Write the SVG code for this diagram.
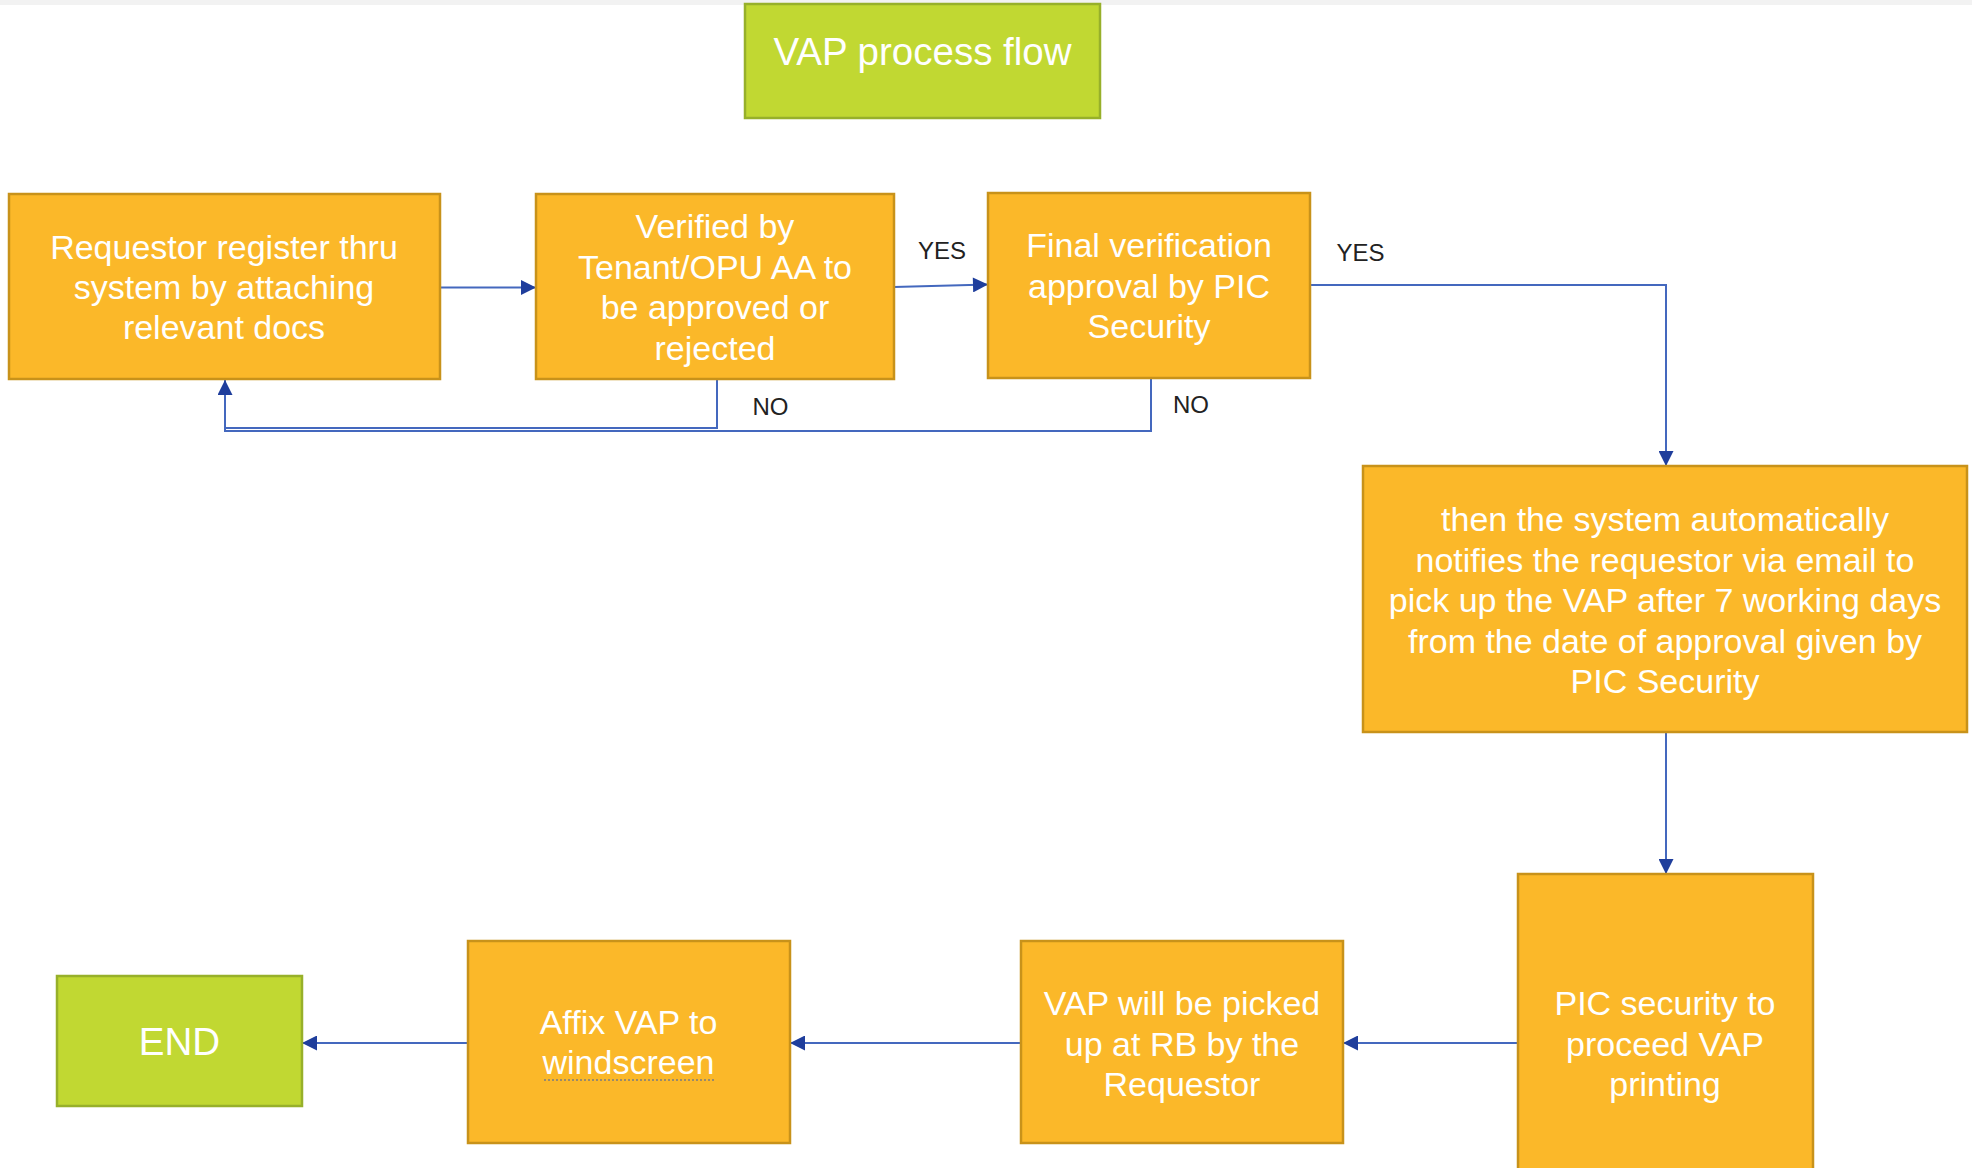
<svg xmlns="http://www.w3.org/2000/svg" width="1972" height="1168" viewBox="0 0 1972 1168">
  <style>
    .step { fill: #FBB829; stroke: #C8921A; stroke-width: 2.5; }
    .term { fill: #C1D832; stroke: #97B02A; stroke-width: 2.5; }
    .txt { font-family: "Liberation Sans", Arial, sans-serif; font-size: 34px; fill: #FFFFFF; text-anchor: middle; }
    .big { font-size: 38.5px; }
    .lbl { font-family: "Liberation Sans", Arial, sans-serif; font-size: 24px; fill: #222222; text-anchor: middle; }
    .link { fill: none; stroke: #4468BE; stroke-width: 2; }
  </style>
  <defs>
    <marker id="arrow" viewBox="0 0 16 16" refX="16" refY="8" markerWidth="16" markerHeight="15" markerUnits="userSpaceOnUse" orient="auto">
      <path d="M0,0 L16,8 L0,16 z" fill="#1F3E9C"/>
    </marker>
  </defs>

  <rect x="0" y="0" width="1972" height="1168" fill="#FFFFFF"/>
  <rect x="0" y="0" width="1972" height="5" fill="#F2F2F2"/>

  <!-- title -->
  <g id="title">
    <rect class="term" x="745" y="4" width="355" height="114"/>
    <text class="txt big" x="922.5" y="65">VAP process flow</text>
  </g>

  <!-- connectors -->
  <g id="connectors">
    <path class="link" d="M440 287.5 H536" marker-end="url(#arrow)"/>
    <path class="link" d="M894 287 L988 284.5" marker-end="url(#arrow)"/>
    <path class="link" d="M1310 285 H1666 V466" marker-end="url(#arrow)"/>
    <path class="link" d="M717 379 V428 H225"/>
    <path class="link" d="M1151 378 V431 H225 V380" marker-end="url(#arrow)"/>
    <path class="link" d="M1666 732 V874" marker-end="url(#arrow)"/>
    <path class="link" d="M1518 1043 H1343" marker-end="url(#arrow)"/>
    <path class="link" d="M1021 1043 H790" marker-end="url(#arrow)"/>
    <path class="link" d="M468 1043 H302" marker-end="url(#arrow)"/>
    <text class="lbl" x="942" y="259">YES</text>
    <text class="lbl" x="1360.5" y="261">YES</text>
    <text class="lbl" x="770.5" y="415">NO</text>
    <text class="lbl" x="1191" y="413">NO</text>
  </g>

  <g id="register">
    <rect class="step" x="9" y="194" width="431" height="185"/>
    <text class="txt" x="224" y="259">Requestor register thru</text>
    <text class="txt" x="224" y="299">system by attaching</text>
    <text class="txt" x="224" y="339">relevant docs</text>
  </g>

  <g id="verify">
    <rect class="step" x="536" y="194" width="358" height="185"/>
    <text class="txt" x="715" y="238">Verified by</text>
    <text class="txt" x="715" y="278.5">Tenant/OPU AA to</text>
    <text class="txt" x="715" y="319">be approved or</text>
    <text class="txt" x="715" y="359.5">rejected</text>
  </g>

  <g id="final">
    <rect class="step" x="988" y="193" width="322" height="185"/>
    <text class="txt" x="1149" y="257">Final verification</text>
    <text class="txt" x="1149" y="297.5">approval by PIC</text>
    <text class="txt" x="1149" y="338">Security</text>
  </g>

  <g id="notify">
    <rect class="step" x="1363" y="466" width="604" height="266"/>
    <text class="txt" x="1665" y="531">then the system automatically</text>
    <text class="txt" x="1665" y="571.5">notifies the requestor via email to</text>
    <text class="txt" x="1665" y="612">pick up the VAP after 7 working days</text>
    <text class="txt" x="1665" y="652.5">from the date of approval given by</text>
    <text class="txt" x="1665" y="693">PIC Security</text>
  </g>

  <g id="printing">
    <rect class="step" x="1518" y="874" width="295" height="310"/>
    <text class="txt" x="1665" y="1015">PIC security to</text>
    <text class="txt" x="1665" y="1055.5">proceed VAP</text>
    <text class="txt" x="1665" y="1096">printing</text>
  </g>

  <g id="pickup">
    <rect class="step" x="1021" y="941" width="322" height="202"/>
    <text class="txt" x="1182" y="1015">VAP will be picked</text>
    <text class="txt" x="1182" y="1055.5">up at RB by the</text>
    <text class="txt" x="1182" y="1096">Requestor</text>
  </g>

  <g id="affix">
    <rect class="step" x="468" y="941" width="322" height="202"/>
    <text class="txt" x="628.5" y="1033.5">Affix VAP to</text>
    <text class="txt" x="628.5" y="1074">windscreen</text>
    <line x1="544" y1="1080" x2="714" y2="1080" stroke="#9A8A6A" stroke-width="2" stroke-dasharray="2 2"/>
  </g>

  <g id="end">
    <rect class="term" x="57" y="976" width="245" height="130"/>
    <text class="txt big" x="179.5" y="1055">END</text>
  </g>
</svg>
